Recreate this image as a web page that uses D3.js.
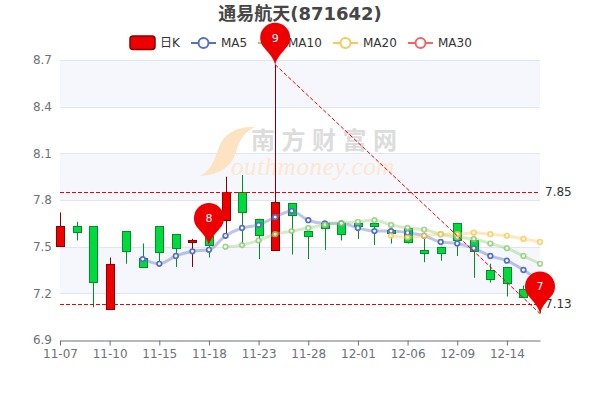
<!DOCTYPE html>
<html><head><meta charset="utf-8">
<script src="https://cdn.jsdelivr.net/npm/d3@7/dist/d3.min.js"></script>
<style>html,body{margin:0;padding:0;background:#fff}svg{display:block}text{font-family:"DejaVu Sans","Noto Sans CJK SC",sans-serif}</style>
</head><body><svg id="c" width="600" height="400"></svg>
<script>
const dates=["11-07","11-08","11-09","11-10","11-11","11-14","11-15","11-16","11-17","11-18","11-21","11-22","11-23","11-24","11-25","11-28","11-29","11-30","12-01","12-02","12-05","12-06","12-07","12-08","12-09","12-12","12-13","12-14","12-15","12-16"];
const opens =[7.50,7.63,7.63,7.10,7.60,7.43,7.63,7.58,7.53,7.57,7.67,7.85,7.68,7.48,7.78,7.60,7.65,7.65,7.65,7.65,7.61,7.62,7.48,7.50,7.65,7.54,7.35,7.37,7.23,7.25];
const closes=[7.63,7.59,7.27,7.39,7.47,7.37,7.46,7.49,7.54,7.51,7.85,7.72,7.58,7.79,7.70,7.57,7.62,7.58,7.63,7.63,7.59,7.53,7.46,7.46,7.54,7.47,7.29,7.27,7.18,7.17];
const highs =[7.72,7.66,7.63,7.43,7.60,7.52,7.63,7.58,7.55,7.57,7.95,7.96,7.68,8.67,7.78,7.60,7.65,7.65,7.65,7.65,7.61,7.62,7.59,7.50,7.65,7.54,7.39,7.37,7.25,7.25];
const lows  =[7.50,7.54,7.11,7.10,7.39,7.37,7.39,7.37,7.37,7.43,7.57,7.51,7.42,7.48,7.45,7.42,7.48,7.54,7.55,7.51,7.52,7.52,7.40,7.41,7.44,7.30,7.27,7.18,7.18,7.07];
const ma5 =[null,null,null,null,null,7.42,7.39,7.44,7.47,7.48,7.57,7.62,7.64,7.69,7.73,7.67,7.65,7.65,7.62,7.60,7.60,7.59,7.57,7.53,7.52,7.49,7.44,7.41,7.35,7.28];
const ma10=[null,null,null,null,null,null,null,null,null,null,7.50,7.51,7.54,7.58,7.60,7.62,7.64,7.65,7.66,7.67,7.64,7.62,7.61,7.58,7.56,7.55,7.52,7.49,7.44,7.39];
const ma20=[null,null,null,null,null,null,null,null,null,null,null,null,null,null,null,null,null,null,null,null,7.57,7.56,7.57,7.58,7.58,7.59,7.58,7.57,7.55,7.53];
const ma30=dates.map(()=>null);
const maNames=["MA5","MA10","MA20","MA30"];
const maColors=["#5470c6","#91cc75","#fac858","#ee6666"];
const yTicks=[6.9,7.2,7.5,7.8,8.1,8.4,8.7];
const tickEvery=3;
const hLines=[7.85,7.13];
const pinIdx=[13,9,29];
const pinVal=[8.67,7.51,7.07];
const pinLabels=["9","8","7"];
const title="通易航天(871642)";

const svg=d3.select("#c");
const x=d3.scalePoint().domain(dates).range([60,540]);
const y=d3.scaleLinear().domain([6.9,8.7]).range([340,60]);
const red="#ee0000",redB="#8a0000",green="#00da3c",greenB="#008f28";

// split areas
const bands=d3.pairs(yTicks);
svg.append("g").selectAll("rect").data(bands).join("rect")
  .attr("x",60).attr("width",480).attr("y",d=>y(d[1])).attr("height",d=>y(d[0])-y(d[1]))
  .attr("fill",(d,i)=>i%2?"#f5f7fc":"#ffffff");
svg.append("g").selectAll("line").data(yTicks.slice(1)).join("line")
  .attr("x1",60).attr("x2",540).attr("y1",d=>Math.round(y(d))+0.5).attr("y2",d=>Math.round(y(d))+0.5)
  .attr("stroke","#e0e6f1").attr("stroke-width",1);

// watermark
const wm=svg.append("g");
wm.append("path").attr("fill","#fde3c2")
  .attr("d","M255,127 C236,126 224,134 219,147 C215,158 212,170 200,176 C220,175 232,166 236,152 C239,141 243,133 255,127 Z");
wm.append("text").attr("x",251).attr("y",149).attr("font-size",24).attr("font-weight",700)
  .attr("letter-spacing",6.5).attr("fill","#dcdcdc").style("font-family","'Noto Sans CJK SC'").text("南方财富网");
wm.append("text").attr("x",231).attr("y",175).attr("font-size",25).attr("font-style","italic")
  .attr("fill","#fbe8d2").attr("letter-spacing",0.6).style("font-family","'Liberation Serif'").text("outhmoney.com");

// axes
const axB=d3.axisBottom(x).tickValues(dates.filter((d,i)=>i%tickEvery===0)).tickSize(5).tickSizeOuter(0).tickPadding(4);
const gx=svg.append("g").attr("transform","translate(0,340.5)").call(axB);
gx.select(".domain").attr("stroke","#6e7079");
gx.selectAll(".tick line").attr("stroke","#6e7079");
gx.selectAll("text").attr("fill","#6e7079").attr("font-size",12).style("font-family","'DejaVu Sans'");
const axL=d3.axisLeft(y).tickValues(yTicks).tickFormat(d3.format(".1f")).tickSize(0).tickPadding(8);
const gy=svg.append("g").attr("transform","translate(60,0)").call(axL);
gy.select(".domain").remove();
gy.selectAll("text").attr("fill","#6e7079").attr("font-size",12).style("font-family","'DejaVu Sans'");

// candles
const cx=d=>Math.round(x(d))+0.5;
const cg=svg.append("g").selectAll("g").data(dates).join("g");
cg.append("line").attr("x1",cx).attr("x2",cx)
  .attr("y1",(d,i)=>y(highs[i])).attr("y2",(d,i)=>y(lows[i]))
  .attr("stroke",(d,i)=>closes[i]>=opens[i]?redB:greenB).attr("stroke-width",1);
cg.append("rect").attr("x",d=>cx(d)-4).attr("width",8)
  .attr("y",(d,i)=>Math.round(y(Math.max(opens[i],closes[i])))+0.5)
  .attr("height",(d,i)=>Math.round(Math.abs(y(opens[i])-y(closes[i]))))
  .attr("fill",(d,i)=>closes[i]>=opens[i]?red:green)
  .attr("stroke",(d,i)=>closes[i]>=opens[i]?redB:greenB).attr("stroke-width",1);

// MA lines
[ma5,ma10,ma20,ma30].forEach((s,k)=>{
  const pts=dates.map((d,i)=>[x(d),s[i]]).filter(p=>p[1]!==null);
  if(!pts.length) return;
  const line=d3.line().x(p=>p[0]).y(p=>y(p[1])).curve(d3.curveMonotoneX);
  const g=svg.append("g");
  g.append("path").attr("d",line(pts)).attr("fill","none").attr("stroke",maColors[k])
    .attr("stroke-width",3).attr("stroke-opacity",0.4);
  g.selectAll("circle").data(pts).join("circle").attr("cx",p=>p[0]).attr("cy",p=>y(p[1])).attr("r",2.3)
    .attr("fill","#fff").attr("stroke",maColors[k]).attr("stroke-width",1.7).attr("opacity",k===0?1:0.8);
});

// mark lines
svg.append("g").selectAll("line").data(hLines).join("line")
  .attr("x1",60).attr("x2",540).attr("y1",d=>Math.round(y(d))+0.5).attr("y2",d=>Math.round(y(d))+0.5)
  .attr("stroke","#f00000").attr("stroke-width",1).attr("stroke-dasharray","4 2");
svg.append("g").selectAll("text").data(hLines).join("text")
  .attr("x",545).attr("y",d=>y(d)).attr("dy","0.35em").attr("font-size",12).attr("fill","#333")
  .text(d=>d.toFixed(2));
svg.append("line").attr("x1",x(dates[pinIdx[0]])).attr("y1",y(pinVal[0]))
  .attr("x2",x(dates[pinIdx[2]])).attr("y2",y(pinVal[2]))
  .attr("stroke","#f00000").attr("stroke-width",1).attr("stroke-dasharray","4 2");

// title
svg.append("text").attr("x",300).attr("y",20).attr("text-anchor","middle").attr("font-size",18)
  .attr("font-weight",700).attr("fill","#464646").text(title);

// legend
const lg=svg.append("g");
lg.append("rect").attr("x",130).attr("y",36).attr("width",25).attr("height",13.5).attr("rx",3)
  .attr("fill",red).attr("stroke",redB).attr("stroke-width",1.5);
lg.append("text").attr("x",160).attr("y",43).attr("dy","0.35em").attr("font-size",12).attr("fill","#333").text("日K");
const legX=[191,258,333,408];
maNames.forEach((n,k)=>{
  lg.append("line").attr("x1",legX[k]).attr("x2",legX[k]+25).attr("y1",43).attr("y2",43).attr("stroke",maColors[k]).attr("stroke-width",2);
  lg.append("circle").attr("cx",legX[k]+12.5).attr("cy",43).attr("r",5).attr("fill","#fff").attr("stroke",maColors[k]).attr("stroke-width",2);
  lg.append("text").attr("x",legX[k]+30).attr("y",43).attr("dy","0.35em").attr("font-size",12).attr("fill","#333").text(n);
});

// pins (drawn last so they cover the legend)
function pin(cx,tip){
  const r=15,cy=tip-27;
  return `M${cx-12.5},${cy+8.3} A${r},${r} 0 1 1 ${cx+12.5},${cy+8.3} C${cx+8},${cy+14} ${cx+2},${cy+19} ${cx},${tip} C${cx-2},${cy+19} ${cx-8},${cy+14} ${cx-12.5},${cy+8.3} Z`;
}
const pg=svg.append("g").selectAll("g").data(pinIdx).join("g");
pg.append("path").attr("d",(d,i)=>pin(x(dates[d]),y(pinVal[i]))).attr("fill","#ee0000");
pg.append("text").attr("x",d=>x(dates[d])).attr("y",(d,i)=>y(pinVal[i])-27).attr("dy","0.35em")
  .attr("text-anchor","middle").attr("font-size",11).attr("fill","#fff").text((d,i)=>pinLabels[i]);
</script></body></html>
